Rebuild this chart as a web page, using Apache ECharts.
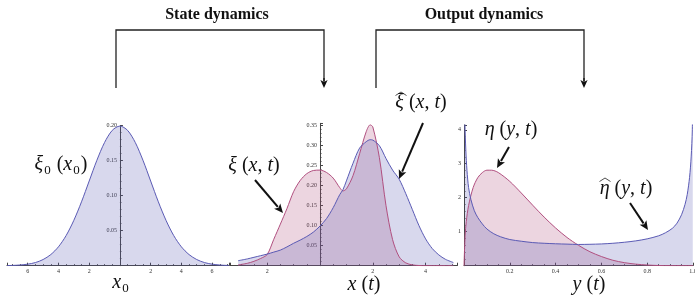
<!DOCTYPE html>
<html>
<head>
<meta charset="utf-8">
<script src="https://cdn.jsdelivr.net/npm/echarts@6/dist/echarts.min.js"></script>
<style>
  html, body { margin: 0; padding: 0; background: #fff; }
  #chart { width: 695px; height: 297px; }
</style>
</head>
<body>
<div id="chart"></div>
<script>
// initial density xi_0(x_0)
const x0Points = [-7.35, -7, -6.5, -6, -5.5, -5, -4.5, -4, -3.5, -3, -2.5, -2, -1.5, -1, -0.5, 0,
  0.5, 1, 1.5, 2, 2.5, 3, 3.5, 4, 4.5, 5, 5.5, 6, 6.5, 7, 7.1]
const xi0Values = [0.0002, 0.0004, 0.001, 0.0022, 0.0045, 0.0088, 0.0159, 0.027, 0.0431, 0.0648, 0.0913,
  0.121, 0.1506, 0.176, 0.1933, 0.1995, 0.1933, 0.176, 0.1506, 0.121, 0.0913, 0.0648, 0.0431, 0.027,
  0.0159, 0.0088, 0.0045, 0.0022, 0.001, 0.0004, 0.0004]

// state densities xi(x,t) and xi-hat(x,t)
const xPoints = [-3.1, -2.75, -2.5, -2.25, -2, -1.75, -1.5, -1.25, -1, -0.75, -0.5, -0.25, 0, 0.25, 0.5,
  0.75, 0.87, 1, 1.25, 1.5, 1.75, 1.9, 2, 2.25, 2.5, 2.75, 3, 3.25, 3.5, 3.75, 4, 4.25, 4.5, 4.75, 5.05]
const xiValues = [0.002, 0.006, 0.011, 0.018, 0.028, 0.066, 0.104, 0.143, 0.185, 0.213, 0.23, 0.238, 0.239,
  0.233, 0.219, 0.195, 0.187, 0.192, 0.225, 0.28, 0.335, 0.352, 0.347, 0.27, 0.15, 0.065, 0.022, 0.007,
  0.002, 0.0005, 0, 0, 0, 0, 0]
const xiHatValues = [0.0125, 0.017, 0.021, 0.025, 0.029, 0.034, 0.039, 0.047, 0.056, 0.064, 0.073, 0.084,
  0.099, 0.118, 0.145, 0.178, 0.19, 0.212, 0.256, 0.294, 0.31, 0.315, 0.314, 0.3, 0.268, 0.239, 0.216,
  0.18, 0.14, 0.1, 0.067, 0.043, 0.027, 0.016, 0.008]

// output densities eta(y,t) and eta-hat(y,t)
const etaPoints = [0, 0.005, 0.01, 0.02, 0.04, 0.06, 0.08, 0.1, 0.12, 0.15, 0.2, 0.25, 0.3, 0.35, 0.4,
  0.45, 0.5, 0.55, 0.6, 0.65, 0.7, 0.75, 0.8, 0.85, 0.9, 1]
const etaValues = [0, 0.9, 1.3, 1.77, 2.3, 2.59, 2.74, 2.81, 2.81, 2.74, 2.48, 2.14, 1.78, 1.43, 1.11,
  0.83, 0.6, 0.41, 0.27, 0.16, 0.09, 0.046, 0.02, 0.006, 0.001, 0]
const etaHatPoints = [0.001, 0.004, 0.008, 0.013, 0.02, 0.03, 0.045, 0.06, 0.08, 0.1, 0.13, 0.16, 0.2,
  0.25, 0.3, 0.35, 0.4, 0.45, 0.5, 0.55, 0.6, 0.65, 0.7, 0.75, 0.8, 0.85, 0.88, 0.91, 0.93, 0.95, 0.965,
  0.975, 0.985, 0.992, 0.997, 0.999]
const etaHatValues = [6, 4.2, 3.4, 2.8, 2.3, 1.95, 1.62, 1.42, 1.23, 1.08, 0.94, 0.85, 0.77, 0.72, 0.68,
  0.66, 0.645, 0.635, 0.625, 0.63, 0.64, 0.66, 0.69, 0.73, 0.79, 0.88, 0.97, 1.1, 1.25, 1.5, 1.8, 2.1,
  2.6, 3.2, 4.0, 5.5]

// axis ranges
const x0Range = [-7.35, 7.1]
const xRange = [-3.4, 5.2]

const blue = '#5a5ab4'
const pink = '#b04f7f'
const axisColor = '#444'
const serif = "'Liberation Serif', 'DejaVu Serif', serif"

const W = 695
const grids = [
  { left: 7, right: 466, top: 125.7, bottom: 31.3 },
  { left: 230.2, right: 237.7, top: 123.3, bottom: 31.3 },
  { left: 464, right: 2, top: 125, bottom: 31.3 }
]

const chart = echarts.init(document.getElementById('chart'))

function pairs(xs, ys) {
  return xs.map((x, i) => [x, ys[i]])
}

function curve(xs, ys, color, idx) {
  return {
    type: 'line',
    xAxisIndex: idx,
    yAxisIndex: idx,
    data: pairs(xs, ys),
    smooth: 0.3,
    showSymbol: false,
    symbol: 'none',
    silent: true,
    lineStyle: { color: color, width: 1 },
    areaStyle: { color: color, opacity: 0.24 }
  }
}

const tickLabel = { fontSize: 6, color: '#333', fontFamily: serif, margin: 3, interval: 0 }

function xAxisOf(idx, range, minorSplit, fmt, interval, splits) {
  const ax = {
    type: 'value', gridIndex: idx, min: range[0], max: range[1],
    splitLine: { show: false },
    axisLine: { onZero: false, lineStyle: { color: axisColor, width: 1 } },
    axisTick: { inside: true, length: 3, lineStyle: { color: axisColor } },
    minorTick: { show: true, splitNumber: minorSplit, length: 1.5, lineStyle: { color: axisColor } },
    axisLabel: Object.assign({ formatter: fmt }, tickLabel)
  }
  if (interval) ax.interval = interval
  else ax.splitNumber = splits
  return ax
}

// y axis sits where x = 0 on the matching x axis
function yAxisOf(idx, max, interval, minorSplit, fmt, xr) {
  let offset = 0
  if (xr) {
    const g = grids[idx]
    const width = W - g.left - g.right
    offset = -(0 - xr[0]) / (xr[1] - xr[0]) * width
  }
  return {
    type: 'value', gridIndex: idx, min: 0, max: max, interval: interval, offset: offset,
    splitLine: { show: false },
    axisLine: { onZero: false, lineStyle: { color: axisColor, width: 1 } },
    axisTick: { inside: true, length: 3, lineStyle: { color: axisColor } },
    minorTick: { show: true, splitNumber: minorSplit, length: 1.5, lineStyle: { color: axisColor } },
    axisLabel: Object.assign({ formatter: fmt }, tickLabel)
  }
}

const evenLabel = v => (Math.abs(v % 2) < 1e-6 && v !== 0) ? String(Math.abs(v)) : ''
const twoDec = v => (v > 0 && Math.abs(v * 20 - Math.round(v * 20)) < 1e-6) ? v.toFixed(2) : ''
const intLabel = v => (v > 0 && Number.isInteger(v)) ? String(v) : ''
const oneDec = v => v > 0 ? v.toFixed(1) : ''

// arrow = shaft + filled head
function arrow(x1, y1, x2, y2, width, head) {
  const dx = x2 - x1, dy = y2 - y1
  const len = Math.hypot(dx, dy)
  const ux = dx / len, uy = dy / len
  const bx = x2 - ux * head, by = y2 - uy * head
  const hw = head * 0.45
  return [
    { type: 'line', silent: true, shape: { x1: x1, y1: y1, x2: bx + ux, y2: by + uy },
      style: { stroke: '#111', lineWidth: width } },
    { type: 'polygon', silent: true,
      shape: { points: [[x2, y2], [bx - uy * hw, by + ux * hw], [bx + ux * 2, by + uy * 2], [bx + uy * hw, by - ux * hw]] },
      style: { fill: '#111' } }
  ]
}

function bracket(xa, xb, yTop, yBottom) {
  return [
    { type: 'polyline', silent: true,
      shape: { points: [[xa, yBottom], [xa, yTop], [xb, yTop], [xb, yBottom - 6]] },
      style: { stroke: '#222', lineWidth: 1.3, fill: null } }
  ].concat(arrow(xb, yBottom - 10, xb, yBottom, 1.3, 8))
}

// wide hat over a letter
function hat(cx, y) {
  return {
    type: 'polyline', silent: true,
    shape: { points: [[cx - 5.5, y + 3.5], [cx, y], [cx + 5.5, y + 3.5]] },
    style: { stroke: '#222', lineWidth: 0.8, fill: null }
  }
}

const richMath = {
  i: { fontFamily: serif, fontStyle: 'italic', fontSize: 20, lineHeight: 22, verticalAlign: 'top', fill: '#111' },
  r: { fontFamily: serif, fontSize: 20, lineHeight: 22, verticalAlign: 'top', fill: '#111' },
  s: { fontFamily: serif, fontSize: 13, lineHeight: 13, verticalAlign: 'top', padding: [9, 1, 0, 1], fill: '#111' }
}

function mathText(x, y, text) {
  return {
    type: 'text', silent: true, x: x, y: y,
    style: { text: text, rich: richMath, textAlign: 'center', textVerticalAlign: 'middle',
      align: 'center', verticalAlign: 'middle' }
  }
}

function title(x, y, text) {
  return {
    type: 'text', silent: true, x: x, y: y,
    style: { text: text, font: "bold 16px 'Liberation Serif', serif", fill: '#111',
      textAlign: 'center', textVerticalAlign: 'middle', align: 'center', verticalAlign: 'middle' }
  }
}

const graphics = [].concat(
  title(217, 15, 'State dynamics'),
  title(484, 15, 'Output dynamics'),
  bracket(116, 324, 30, 88),
  bracket(376, 584, 30, 88),
  arrow(255, 180, 283, 213, 2, 9),
  arrow(423, 123, 399, 179, 2, 9),
  arrow(509, 147, 497, 168, 2, 9),
  arrow(630, 203, 648, 230, 2, 9),
  mathText(61, 166, '{i|ξ}{s|0}{r| (}{i|x}{s|0}{r|)}'),
  mathText(121, 284, '{i|x}{s|0}'),
  mathText(254, 167, '{i|ξ}{r| (}{i|x}{r|, }{i|t}{r|)}'),
  mathText(364, 286, '{i|x}{r| (}{i|t}{r|)}'),
  mathText(421, 104, '{i|ξ}{r| (}{i|x}{r|, }{i|t}{r|)}'),
  hat(401, 92),
  mathText(511, 131, '{i|η}{r| (}{i|y}{r|, }{i|t}{r|)}'),
  mathText(626, 190, '{i|η}{r| (}{i|y}{r|, }{i|t}{r|)}'),
  hat(605, 178),
  mathText(589, 286, '{i|y}{r| (}{i|t}{r|)}')
)

chart.setOption({
  backgroundColor: '#fff',
  animation: false,
  grid: grids.map(g => Object.assign({ outerBoundsMode: 'none', containLabel: false }, g)),
  xAxis: [
    xAxisOf(0, x0Range, 4, evenLabel, null, 7),
    xAxisOf(1, xRange, 4, evenLabel, null, 4),
    xAxisOf(2, [0, 1], 4, oneDec, 0.2)
  ],
  yAxis: [
    yAxisOf(0, 0.2, 0.05, 5, twoDec, x0Range),
    yAxisOf(1, 0.356, 0.05, 5, twoDec, xRange),
    yAxisOf(2, 4.14, 1, 5, intLabel)
  ],
  series: [
    curve(x0Points, xi0Values, blue, 0),
    curve(xPoints, xiValues, pink, 1),
    curve(xPoints, xiHatValues, blue, 1),
    curve(etaPoints, etaValues, pink, 2),
    curve(etaHatPoints, etaHatValues, blue, 2)
  ],
  graphic: { elements: graphics }
})
</script>
</body>
</html>
